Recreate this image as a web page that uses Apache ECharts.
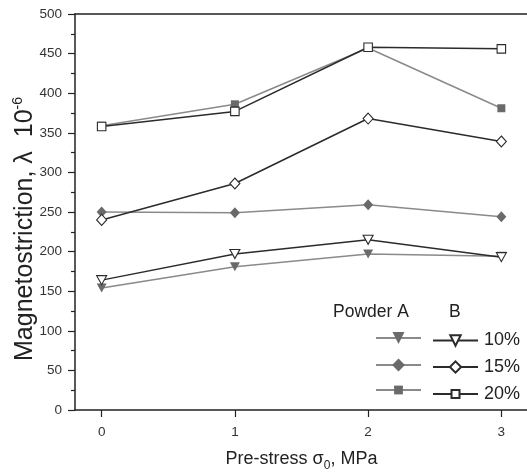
<!DOCTYPE html>
<html><head><meta charset="utf-8">
<script src="https://cdn.jsdelivr.net/npm/echarts@6/dist/echarts.min.js"></script>
<style>html,body{margin:0;padding:0;background:#fff}#c{width:527px;height:472px}</style>
</head><body><div id="c"></div>
<script>
// ---- data ----
const preStress = [0, 1, 2, 3];
const xTickValues = [0, 1, 2, 3];
const powderA10 = [154, 181, 197, 194];
const powderB10 = [164, 197, 215, 193];
const powderA15 = [250, 249, 259, 244];
const powderB15 = [240, 286, 368, 339];
const powderA20 = [359, 386, 457, 381];
const powderB20 = [358, 377, 458, 456];
const concentrations = ['10%', '15%', '20%'];

// ---- styles ----
const FONT = 'Liberation Sans, Arial, sans-serif';
const GREY_MARK = '#6a6a6a', GREY_LINE = '#8a8a8a', DARK = '#2b2b2b';
const DOWN_TRI = 'path://M0,0L10,0L5,9Z';

function seriesA(name, vals, symbol, size) {
  return {
    name, type: 'line', data: preStress.map((x, i) => [x, vals[i]]),
    symbol, symbolSize: size, z: 2,
    lineStyle: { color: GREY_LINE, width: 1.5 },
    itemStyle: { color: GREY_MARK, borderWidth: 0 }
  };
}
function seriesB(name, vals, symbol, size) {
  return {
    name, type: 'line', data: preStress.map((x, i) => [x, vals[i]]),
    symbol, symbolSize: size, z: 3,
    lineStyle: { color: DARK, width: 1.5 },
    itemStyle: { color: '#fff', borderColor: DARK, borderWidth: 1.1 }
  };
}

const series = [
  seriesA('A ' + concentrations[0], powderA10, DOWN_TRI, [10, 9]),
  seriesA('A ' + concentrations[1], powderA15, 'diamond', [10, 11]),
  seriesA('A ' + concentrations[2], powderA20, 'rect', [8, 8]),
  seriesB('B ' + concentrations[0], powderB10, DOWN_TRI, [10, 9]),
  seriesB('B ' + concentrations[1], powderB15, 'diamond', [10, 11]),
  seriesB('B ' + concentrations[2], powderB20, 'rect', [8.5, 8.5])
];

// legend rows (centre y, icon heights)
const rowY = [338, 365, 390];
const hA = [15, 16, 11];
const hB = [13, 14, 10];
const legends = [];
concentrations.forEach((c, i) => {
  legends.push({
    data: ['A ' + c], left: 375, top: rowY[i] - hA[i] / 2, padding: 0,
    itemWidth: 45, itemHeight: hA[i], selectedMode: false,
    formatter: () => '', textStyle: { fontSize: 1 }
  });
  legends.push({
    data: ['B ' + c], left: 432, top: rowY[i] - hB[i] / 2, padding: 0,
    itemWidth: 45, itemHeight: hB[i], selectedMode: false, itemGap: 0,
    formatter: n => n.replace('B ', ''),
    textStyle: { fontSize: 18, color: '#222', fontFamily: FONT, padding: [0, 0, 0, 1] }
  });
});

const chart = echarts.init(document.getElementById('c'), null, { renderer: 'canvas' });
chart.setOption({
  backgroundColor: '#fff',
  animation: false,
  textStyle: { fontFamily: FONT },
  grid: { left: 75, top: 14, right: -1, bottom: 62, outerBoundsMode: 'none', containLabel: false },
  legend: legends,
  graphic: [
    { type: 'text', left: 333, top: 303, style: { text: 'Powder A', fontSize: 17.5, fill: '#222', fontFamily: FONT } },
    { type: 'text', left: 449, top: 303, style: { text: 'B', fontSize: 17.5, fill: '#222', fontFamily: FONT } }
  ],
  xAxis: [{
    type: 'value', min: -0.2, max: 3.2,
    name: '{m|Pre-stress σ}{s|0}{m|, MPa}',
    nameLocation: 'middle', nameGap: 36,
    nameTextStyle: {
      rich: {
        m: { fontSize: 18, lineHeight: 26, color: '#222', fontFamily: FONT },
        s: { fontSize: 12, lineHeight: 12, padding: [14, 0, 0, 0], verticalAlign: 'bottom', color: '#222', fontFamily: FONT }
      }
    },
    axisLine: { onZero: false, lineStyle: { color: '#222', width: 1.5 } },
    axisTick: { show: true, length: 7, lineStyle: { color: '#222', width: 1.2 }, customValues: xTickValues },
    axisLabel: { fontSize: 13.5, color: '#333', margin: 15, customValues: xTickValues },
    splitLine: { show: false }
  }, {
    type: 'value', min: -0.2, max: 3.2, position: 'top',
    axisLine: { show: true, onZero: false, lineStyle: { color: '#222', width: 1.5 } },
    axisTick: { show: false }, axisLabel: { show: false }, splitLine: { show: false }
  }],
  yAxis: {
    type: 'value', min: 0, max: 500, interval: 50,
    name: '{m|Magnetostriction, λ  10}{s|-6}',
    nameLocation: 'middle', nameGap: 36, nameRotate: 90, nameMoveOverlap: false,
    nameTextStyle: {
      padding: [0, 34, 0, 0],
      rich: {
        m: { fontSize: 25, lineHeight: 28, color: '#222', fontFamily: FONT },
        s: { fontSize: 14, lineHeight: 14, verticalAlign: 'top', color: '#222', fontFamily: FONT }
      }
    },
    axisLine: { show: true, onZero: false, lineStyle: { color: '#222', width: 1.5 } },
    axisTick: { show: true, length: 7, lineStyle: { color: '#222', width: 1.2 } },
    minorTick: { show: true, splitNumber: 2, length: 4, lineStyle: { color: '#222', width: 1.2 } },
    axisLabel: { fontSize: 13.5, color: '#333', margin: 13 },
    splitLine: { show: false }
  },
  series
});
</script></body></html>
